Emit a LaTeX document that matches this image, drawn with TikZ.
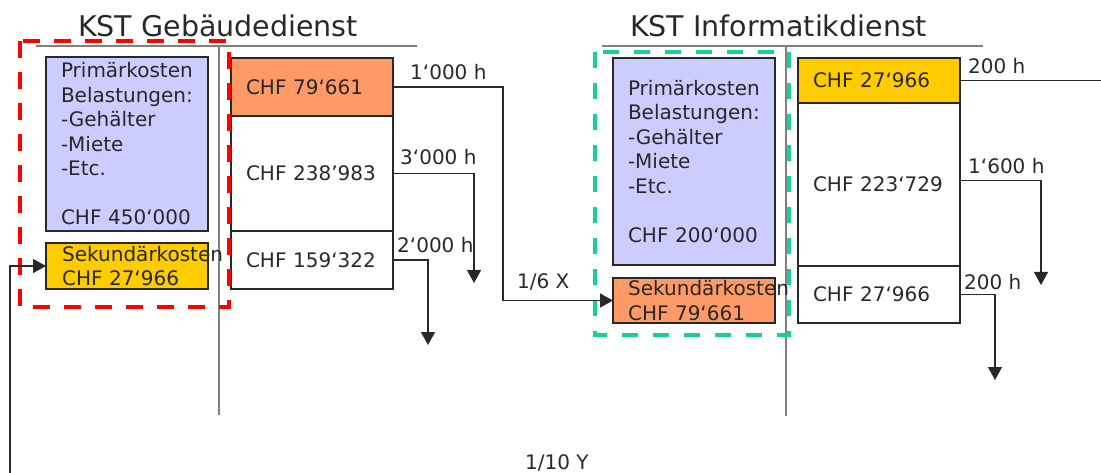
\documentclass[tikz,border=0pt]{standalone}
\usepackage{fontspec}
\setmainfont{DejaVu Sans}
\usetikzlibrary{arrows.meta,positioning}
\definecolor{lavender}{RGB}{204,204,255}
\definecolor{salmon}{RGB}{255,153,102}
\definecolor{gold}{RGB}{255,204,0}
\definecolor{mint}{RGB}{20,210,150}
\definecolor{ink}{RGB}{40,40,40}
\begin{document}
\begin{tikzpicture}[x=1pt,y=-1pt,
    every node/.style={text=ink},
    box/.style={draw=ink,line width=1.3pt,rectangle,anchor=north west,outer sep=0pt,
      inner xsep=15pt,inner ysep=0pt,text width=132pt,align=left,
      font=\fontsize{20}{24.5}\selectfont},
    txt/.style={inner sep=0pt,align=left,font=\fontsize{20}{24.5}\selectfont},
    lbl/.style={inner sep=0pt,font=\fontsize{20}{24.5}\selectfont},
    title/.style={inner sep=0pt,anchor=base west,font=\fontsize{28.5}{30}\selectfont},
    rule/.style={draw=gray,line width=1.5pt},
    link/.style={draw=ink,line width=1.3pt},
    arr/.style={link,-{Triangle[width=14pt,length=13pt]}}]
  \useasboundingbox (0,0) rectangle (1101,473);
  % titles and rules
  \node[title] (t1) at (78,37) {KST Gebäudedienst};
  \node[title] (t2) at (630,37) {KST Informatikdienst};
  \draw[rule] (36,46) -- (417,46);
  \draw[rule] (219,46) -- (219,415);
  \draw[rule] (602,46) -- (983,46);
  \draw[rule] (786,46) -- (786,416);
  % KST Gebaeudedienst
  \node[box,fill=lavender,minimum height=174pt] (p1) at (46,57)
    {Primärkosten\\Belastungen:\\-Gehälter\\-Miete\\-Etc.\\~\\CHF 450‘000};
  \node[box,fill=gold,minimum height=46pt,below=12pt of p1] (s1) {};
  \node[txt,anchor=west] (s1t) at ([xshift=16pt]s1.west) {Sekundärkosten\\CHF 27‘966};
  \node[box,fill=salmon,minimum height=58pt] (o1) at (231,58) {CHF 79‘661};
  \node[box,minimum height=115pt,below=0pt of o1] (w1) {CHF 238’983};
  \node[box,minimum height=58pt,below=0pt of w1] (w2) {CHF 159‘322};
  % KST Informatikdienst
  \node[box,fill=lavender,minimum height=207pt] (p2) at (613,58)
    {Primärkosten\\Belastungen:\\-Gehälter\\-Miete\\-Etc.\\~\\CHF 200‘000};
  \node[box,fill=salmon,minimum height=45pt,below=13pt of p2] (s2) {};
  \node[txt,anchor=west] (s2t) at ([xshift=15pt]s2.west) {Sekundärkosten\\CHF 79‘661};
  \node[box,fill=gold,minimum height=45pt] (y2) at (798,58) {CHF 27‘966};
  \node[box,minimum height=163pt,below=0pt of y2] (w3) {CHF 223‘729};
  \node[box,minimum height=57pt,below=0pt of w3] (w4) {CHF 27‘966};
  % dashed frames
  \draw[red,line width=4pt,dash pattern=on 17pt off 14pt] (20,41) rectangle (229,307);
  \draw[mint,line width=4pt,dash pattern=on 16pt off 15pt] (595,52) rectangle (789,335);
  % flows
  \coordinate (d1) at (474,283);
  \coordinate (d2) at (428,345);
  \coordinate (d3) at (1041,285);
  \coordinate (d4) at (995,380);
  \coordinate (b0) at (10,473);
  \coordinate (r0) at (1101,0);
  \draw[arr] (o1.east) -- ++(110,0) |- (s2.west);
  \draw[arr] (w1.east) -| (d1);
  \draw[arr] (w2.east) -| (d2);
  \draw[arr] (b0) |- (s1.west);
  \draw[link] (y2.east) -- (y2.east -| r0);
  \draw[arr] ([yshift=4pt]w3.east) -| (d3);
  \draw[arr] (w4.east) -| (d4);
  \node[lbl,above right=7pt and 17pt of o1.east] (h1) {1‘000 h};
  \node[lbl,above right=9pt and 7pt of w1.east] (h2) {3‘000 h};
  \node[lbl,above right=7pt and 4pt of w2.east] (h3) {2‘000 h};
  \node[lbl,above right=7pt and 8pt of y2.east] (h4) {200 h};
  \node[lbl,above right=11pt and 8pt of w3.east] (h5) {1‘600 h};
  \node[lbl,above right=5pt and 4pt of w4.east] (h6) {200 h};
  \node[lbl,anchor=base west] (x1) at (517,289) {1/6 X};
  \node[lbl,anchor=base west] (y1) at (525,469) {1/10 Y};
\end{tikzpicture}
\end{document}
